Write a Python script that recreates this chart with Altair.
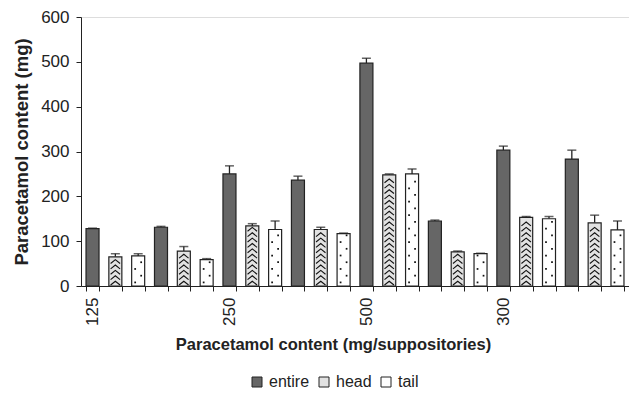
import altair as alt
import pandas as pd

group_labels = ["125", "", "250", "", "500", "", "300", ""]
series = ["entire", "head", "tail"]
entire = [128, 131, 250, 236, 497, 145, 303, 283]
head = [65, 78, 134, 126, 248, 76, 153, 141]
tail = [67, 59, 126, 117, 250, 72, 150, 125]
err_entire = [1, 2, 18, 9, 11, 2, 9, 20]
err_head = [7, 10, 5, 5, 2, 2, 2, 17]
err_tail = [5, 2, 19, 1, 11, 1, 5, 20]

vals = {"entire": entire, "head": head, "tail": tail}
errs = {"entire": err_entire, "head": err_head, "tail": err_tail}
rows = []
for g in range(len(group_labels)):
    for s_i, s in enumerate(series):
        rows.append({"pos": g * 3 + s_i, "series": s, "value": vals[s][g],
                     "top": vals[s][g] + errs[s][g]})
df = pd.DataFrame(rows)

# label expression: show the dose label under the first bar of each labelled group
conds = []
for g, lab in enumerate(group_labels):
    if lab:
        conds.append(f"datum.value == {g*3} ? '{lab}'")
label_expr = " : ".join(conds) + " : ''"

FONT = "Liberation Sans"

x = alt.X("pos:O", scale=alt.Scale(paddingInner=0.43, paddingOuter=0.22),
          axis=alt.Axis(title="Paracetamol content (mg/suppositories)", labelExpr=label_expr,
                        labelAngle=-90, tickBand="extent", tickSize=5, labelPadding=6,
                        titlePadding=11, labelFontSize=17, titleFontSize=16.5,
                        titleFontWeight="bold", labelColor="#222", titleColor="#222",
                        titleX=252, titleAnchor="middle",
                        domainColor="#222", tickColor="#222", labelFont=FONT, titleFont=FONT))
y_scale = alt.Scale(domain=[0, 600])
y = alt.Y("value:Q", scale=y_scale,
          axis=alt.Axis(title="Paracetamol content (mg)", values=[0, 100, 200, 300, 400, 500, 600],
                        tickSize=5, labelPadding=7, titlePadding=9, labelFontSize=17,
                        titleFontSize=18.5, titleFontWeight="bold", grid=False,
                        labelColor="#222", titleColor="#222", domainColor="#222",
                        tickColor="#222", labelFont=FONT, titleFont=FONT))

base = alt.Chart(df)

bars = base.mark_bar(stroke="#222", strokeWidth=1.2).encode(
    x=x, y=y,
    color=alt.Color("series:N", sort=series,
                    scale=alt.Scale(domain=series, range=["#666666", "#e2e2e2", "#ffffff"]),
                    legend=alt.Legend(title=None, orient="none", direction="horizontal",
                                      legendX=168, legendY=357, symbolType="square",
                                      symbolSize=100, symbolStrokeColor="#222",
                                      symbolStrokeWidth=1, labelFontSize=16, labelFont=FONT,
                                      labelColor="#222", columnPadding=6, labelOffset=4))
)

# dot texture for tail bars
dots_base = base.transform_filter("datum.series == 'tail'").transform_calculate(
    ys="sequence(8, datum.value - 3, 15)"
).transform_flatten(["ys"]).transform_calculate(
    par="floor((datum.ys - 8) / 15) % 2"
)
dots_a = dots_base.transform_filter("datum.par == 0").mark_square(
    size=3, color="#111", opacity=1, xOffset=-3).encode(
    x="pos:O", y=alt.Y("ys:Q", scale=y_scale))
dots_b = dots_base.transform_filter("datum.par == 1").mark_square(
    size=3, color="#111", opacity=1, xOffset=3).encode(
    x="pos:O", y=alt.Y("ys:Q", scale=y_scale))

# chevron texture for head bars
chev = base.transform_filter("datum.series == 'head'").transform_calculate(
    ys="sequence(7, datum.value - 4, 12)"
).transform_flatten(["ys"]).mark_point(
    shape="M-1,0.45L0,-0.35L1,0.45", size=90, filled=False, stroke="#111",
    strokeWidth=1.1, opacity=1).encode(x="pos:O", y=alt.Y("ys:Q", scale=y_scale))

# error bars (upper only)
err_rule = base.mark_rule(color="#222", strokeWidth=1.3).encode(
    x="pos:O", y=alt.Y("value:Q", scale=y_scale), y2="top:Q")
err_cap = base.mark_tick(color="#222", thickness=1.5, size=9).encode(
    x="pos:O", y=alt.Y("top:Q", scale=y_scale))

chart = alt.layer(err_rule, bars, dots_a, dots_b, chev, err_cap).properties(
    width=548, height=269,
    autosize=alt.AutoSizeParams(type="none"),
    padding={"left": 73, "top": 9, "right": 0, "bottom": 113},
).configure_view(stroke=None).configure(background="white")

chart.save("out.html", embed_options={"renderer": "svg", "actions": False})
